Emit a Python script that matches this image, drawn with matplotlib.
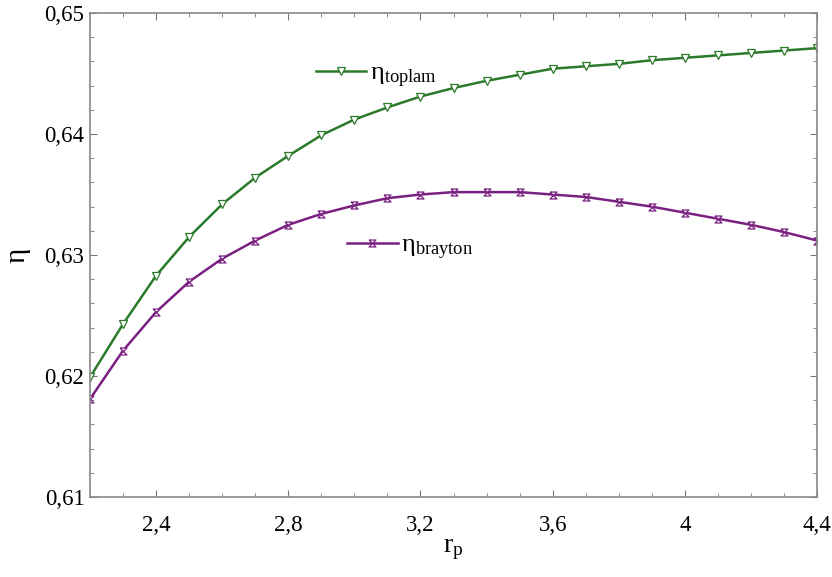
import numpy as np
import matplotlib
matplotlib.use("Agg")
import matplotlib.pyplot as plt
from matplotlib.ticker import MultipleLocator, FuncFormatter

plt.rcParams['font.family'] = ['Liberation Serif', 'DejaVu Serif']
plt.rcParams['mathtext.fontset'] = 'custom'
plt.rcParams['mathtext.rm'] = 'Liberation Serif'
plt.rcParams['mathtext.it'] = 'Liberation Serif:italic'

# pressure ratio
rp = [2.2, 2.3, 2.4, 2.5, 2.6, 2.7, 2.8, 2.9, 3.0, 3.1, 3.2, 3.3,
      3.4, 3.5, 3.6, 3.7, 3.8, 3.9, 4.0, 4.1, 4.2, 4.3, 4.4]
# total efficiency
eta_toplam = [0.6199, 0.6243, 0.6283, 0.6315, 0.6342, 0.6364, 0.6382, 0.6399,
              0.6412, 0.6422, 0.6431, 0.6438, 0.6444, 0.6449, 0.6454, 0.6456,
              0.6458, 0.6461, 0.6463, 0.6465, 0.6467, 0.6469, 0.6471]
# brayton efficiency
eta_brayton = [0.6181, 0.6221, 0.6253, 0.6278, 0.6297, 0.6312, 0.6325, 0.6334,
               0.6341, 0.6347, 0.6350, 0.6352, 0.6352, 0.6352, 0.6350, 0.6348,
               0.6344, 0.6340, 0.6335, 0.6330, 0.6325, 0.6319, 0.6312]

green = '#2a7a2a'
purple = '#7a2080'
hourglass = [(-1, 1), (1, 1), (-1, -1), (1, -1), (-1, 1)]

fig = plt.figure(figsize=(8.32, 5.77), dpi=100)
ax = fig.add_axes([0.1082, 0.1386, 0.8738, 0.8388])

l1, = ax.plot(rp, eta_toplam, color=green, lw=1.8, marker='v', ms=6,
              mfc='white', mec=green, mew=0.9)
l2, = ax.plot(rp, eta_brayton, color=purple, lw=1.8, marker=hourglass, ms=5,
              mfc='white', mec=purple, mew=0.9)

ax.set_xlim(2.2, 4.4)
ax.set_ylim(0.61, 0.65)
ax.xaxis.set_major_locator(MultipleLocator(0.4))
ax.xaxis.set_minor_locator(MultipleLocator(0.1))
ax.yaxis.set_major_locator(MultipleLocator(0.01))
ax.yaxis.set_minor_locator(MultipleLocator(0.002))

def comma(v, pos):
    if abs(v - 2.2) < 1e-6:
        return ''
    s = ('%.2f' % v).rstrip('0').rstrip('.')
    return s.replace('.', ',')

ax.xaxis.set_major_formatter(FuncFormatter(comma))
ax.yaxis.set_major_formatter(FuncFormatter(comma))
ax.tick_params(which='both', direction='in', top=True, right=True,
               labelsize=16.5, colors='#777777', labelcolor='black')
ax.tick_params(which='major', length=5)
ax.tick_params(which='minor', length=3)
ax.tick_params(axis='x', which='major', pad=13)
ax.tick_params(axis='y', which='major', pad=4)

for sp in ax.spines.values():
    sp.set_color('#888888')
    sp.set_linewidth(1.2)

ax.set_xlabel(r'r$_\mathrm{p}$', fontsize=20, labelpad=1)
ax.set_ylabel('η', fontsize=21, rotation=90, labelpad=10)

leg1 = ax.legend([l1], ['η$_{\\mathrm{toplam}}$'], loc='center left',
                 bbox_to_anchor=(0.311, 0.87), frameon=False, fontsize=19,
                 handlelength=1.9, handletextpad=0.15, borderpad=0,
                 borderaxespad=0)
ax.add_artist(leg1)
ax.legend([l2], ['η$_{\\mathrm{brayton}}$'], loc='center left',
          bbox_to_anchor=(0.354, 0.515), frameon=False, fontsize=19,
          handlelength=1.9, handletextpad=0.15, borderpad=0,
          borderaxespad=0)

fig.savefig('out.png', dpi=100)
